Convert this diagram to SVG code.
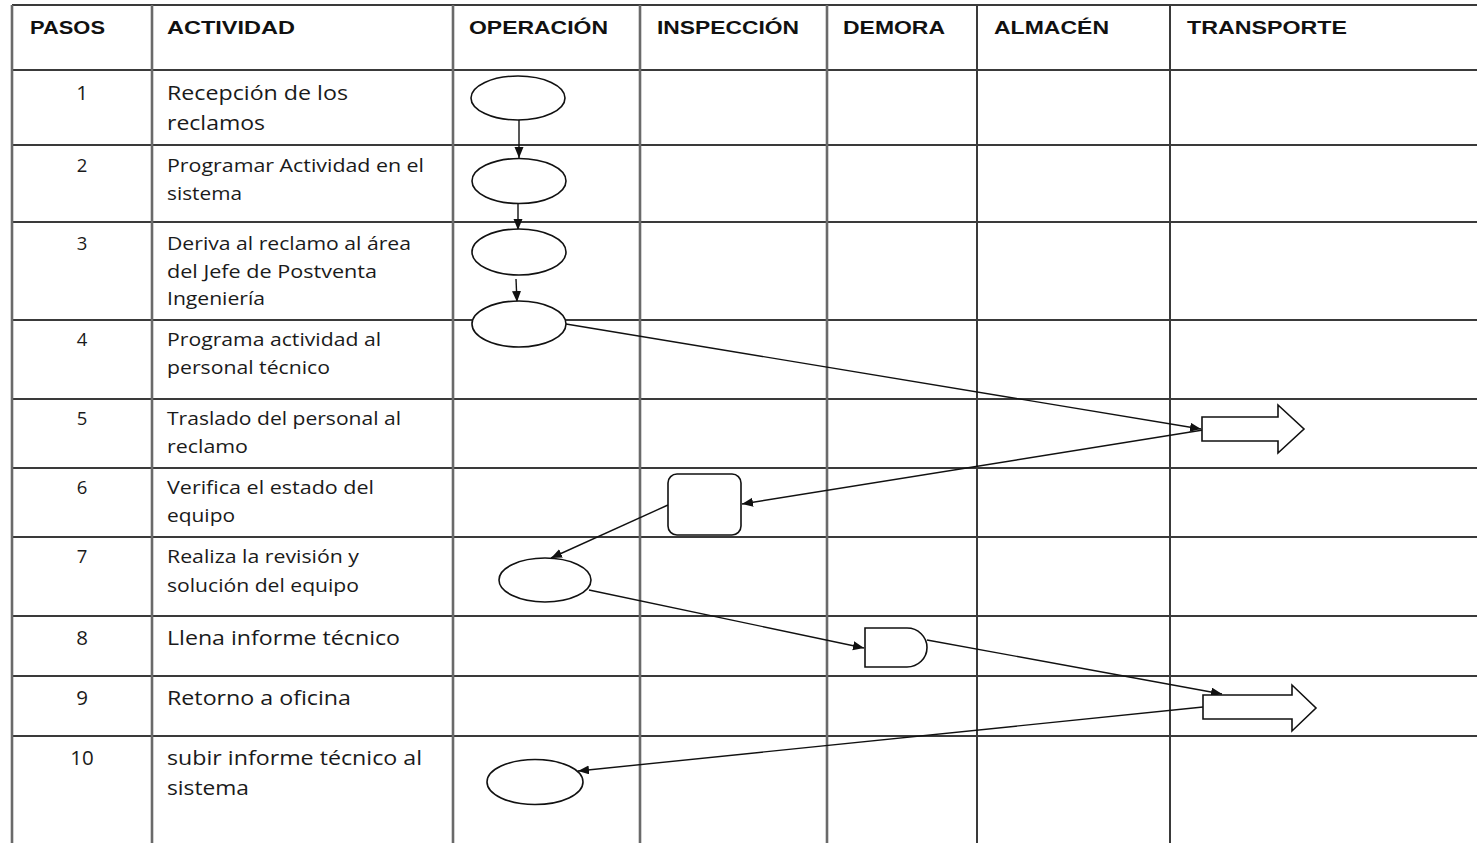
<svg xmlns="http://www.w3.org/2000/svg" width="1477" height="843" viewBox="0 0 1477 843">
  <style>
    .grid { stroke: #3a3a3a; stroke-width: 2; fill: none; }
    .grid .soft { stroke: #6a6a6a; stroke-width: 2.6; }
    .hd { font-family: "Liberation Sans", Arial, sans-serif; font-weight: bold; font-size: 18.5px; fill: #111; }
    .tx { font-family: "Open Sans", "Noto Sans", sans-serif; fill: #1a1a1a; }
    .big { font-size: 20.5px; }
    .sm { font-size: 18.5px; }
    .num { text-anchor: middle; }
    .shape { fill: #fff; stroke: #111; stroke-width: 1.6; }
    .conn { stroke: #111; stroke-width: 1.4; fill: none; marker-end: url(#arrow); }
  </style>
  <defs>
    <marker id="arrow" markerUnits="userSpaceOnUse" markerWidth="12" markerHeight="10" refX="11" refY="4.5" orient="auto">
      <path d="M0,0 L11,4.5 L0,9 Z" fill="#111"/>
    </marker>
  </defs>

  <rect width="1477" height="843" fill="#fff"/>

  <!-- table grid -->
  <g id="grid" class="grid">
    <line x1="12" y1="5" x2="1477" y2="5"/>
    <line x1="12" y1="70" x2="1477" y2="70"/>
    <line x1="12" y1="145" x2="1477" y2="145"/>
    <line x1="12" y1="222" x2="1477" y2="222"/>
    <line x1="12" y1="320" x2="1477" y2="320"/>
    <line x1="12" y1="399" x2="1477" y2="399"/>
    <line x1="12" y1="468" x2="1477" y2="468"/>
    <line x1="12" y1="537" x2="1477" y2="537"/>
    <line x1="12" y1="616" x2="1477" y2="616"/>
    <line x1="12" y1="676" x2="1477" y2="676"/>
    <line x1="12" y1="736" x2="1477" y2="736"/>
    <line class="soft" x1="12" y1="5" x2="12" y2="843"/>
    <line class="soft" x1="152" y1="5" x2="152" y2="843"/>
    <line class="soft" x1="453" y1="5" x2="453" y2="843"/>
    <line class="soft" x1="640" y1="5" x2="640" y2="843"/>
    <line class="soft" x1="827" y1="5" x2="827" y2="843"/>
    <line x1="977" y1="5" x2="977" y2="843"/>
    <line x1="1170" y1="5" x2="1170" y2="843"/>
  </g>

  <!-- column headers -->
  <g id="headers" class="hd">
    <text x="30" y="34" textLength="75" lengthAdjust="spacingAndGlyphs">PASOS</text>
    <text x="167" y="34" textLength="128" lengthAdjust="spacingAndGlyphs">ACTIVIDAD</text>
    <text x="469" y="34" textLength="139" lengthAdjust="spacingAndGlyphs">OPERACIÓN</text>
    <text x="657" y="34" textLength="142" lengthAdjust="spacingAndGlyphs">INSPECCIÓN</text>
    <text x="843" y="34" textLength="102" lengthAdjust="spacingAndGlyphs">DEMORA</text>
    <text x="994" y="34" textLength="115" lengthAdjust="spacingAndGlyphs">ALMACÉN</text>
    <text x="1187" y="34" textLength="160" lengthAdjust="spacingAndGlyphs">TRANSPORTE</text>
  </g>

  <!-- step numbers -->
  <g id="steps" class="tx num">
    <text class="big" x="82" y="100">1</text>
    <text class="sm" x="82" y="172">2</text>
    <text class="sm" x="82" y="250">3</text>
    <text class="sm" x="82" y="346">4</text>
    <text class="sm" x="82" y="425">5</text>
    <text class="sm" x="82" y="494">6</text>
    <text class="sm" x="82" y="563">7</text>
    <text class="big" x="82" y="645">8</text>
    <text class="big" x="82" y="705">9</text>
    <text class="big" x="82" y="765">10</text>
  </g>

  <!-- activity descriptions -->
  <g id="activities" class="tx">
    <text class="big" x="167" y="100" textLength="181" lengthAdjust="spacingAndGlyphs">Recepción de los</text>
    <text class="big" x="167" y="130" textLength="98" lengthAdjust="spacingAndGlyphs">reclamos</text>
    <text class="sm" x="167" y="172" textLength="257" lengthAdjust="spacingAndGlyphs">Programar Actividad en el</text>
    <text class="sm" x="167" y="200" textLength="75" lengthAdjust="spacingAndGlyphs">sistema</text>
    <text class="sm" x="167" y="250" textLength="244" lengthAdjust="spacingAndGlyphs">Deriva al reclamo al área</text>
    <text class="sm" x="167" y="278" textLength="210" lengthAdjust="spacingAndGlyphs">del Jefe de Postventa</text>
    <text class="sm" x="167" y="305" textLength="98" lengthAdjust="spacingAndGlyphs">Ingeniería</text>
    <text class="sm" x="167" y="346" textLength="214" lengthAdjust="spacingAndGlyphs">Programa actividad al</text>
    <text class="sm" x="167" y="374" textLength="163" lengthAdjust="spacingAndGlyphs">personal técnico</text>
    <text class="sm" x="167" y="425" textLength="234" lengthAdjust="spacingAndGlyphs">Traslado del personal al</text>
    <text class="sm" x="167" y="453" textLength="81" lengthAdjust="spacingAndGlyphs">reclamo</text>
    <text class="sm" x="167" y="494" textLength="207" lengthAdjust="spacingAndGlyphs">Verifica el estado del</text>
    <text class="sm" x="167" y="522" textLength="68" lengthAdjust="spacingAndGlyphs">equipo</text>
    <text class="sm" x="167" y="563" textLength="192" lengthAdjust="spacingAndGlyphs">Realiza la revisión y</text>
    <text class="sm" x="167" y="592" textLength="192" lengthAdjust="spacingAndGlyphs">solución del equipo</text>
    <text class="big" x="167" y="645" textLength="233" lengthAdjust="spacingAndGlyphs">Llena informe técnico</text>
    <text class="big" x="167" y="705" textLength="184" lengthAdjust="spacingAndGlyphs">Retorno a oficina</text>
    <text class="big" x="167" y="765" textLength="255" lengthAdjust="spacingAndGlyphs">subir informe técnico al</text>
    <text class="big" x="167" y="795" textLength="82" lengthAdjust="spacingAndGlyphs">sistema</text>
  </g>

  <!-- flow connectors -->
  <g id="connectors">
    <line class="conn" x1="519" y1="120" x2="519" y2="158"/>
    <line class="conn" x1="518" y1="204" x2="518" y2="230"/>
    <line class="conn" x1="516" y1="279" x2="517" y2="302"/>
    <line class="conn" x1="566" y1="324" x2="1201" y2="429"/>
    <line class="conn" x1="1203" y1="430" x2="742" y2="504"/>
    <line class="conn" x1="668" y1="505" x2="551" y2="558"/>
    <line class="conn" x1="589" y1="590" x2="864" y2="648"/>
    <line class="conn" x1="927" y1="640" x2="1222" y2="694"/>
    <line class="conn" x1="1203" y1="707" x2="578" y2="771"/>
  </g>

  <!-- process symbols -->
  <g id="op1"><ellipse class="shape" cx="518" cy="98" rx="47" ry="22"/></g>
  <g id="op2"><ellipse class="shape" cx="519" cy="181" rx="47" ry="22.5"/></g>
  <g id="op3"><ellipse class="shape" cx="519" cy="252" rx="47" ry="23"/></g>
  <g id="op4"><ellipse class="shape" cx="519" cy="324" rx="47" ry="23"/></g>
  <g id="transport5"><path class="shape" d="M1202,417 H1278 V405 L1304,429 L1278,453 V441 H1202 Z"/></g>
  <g id="inspect6"><rect class="shape" x="668" y="474" width="73" height="61" rx="9"/></g>
  <g id="op7"><ellipse class="shape" cx="545" cy="580" rx="46" ry="22"/></g>
  <g id="delay8"><path class="shape" d="M865,628 H907 A20,19.5 0 0 1 907,667 H865 Z"/></g>
  <g id="transport9"><path class="shape" d="M1203,695 H1292 V685 L1316,708 L1292,731 V719 H1203 Z"/></g>
  <g id="op10"><ellipse class="shape" cx="535" cy="782" rx="48" ry="22.5"/></g>
</svg>
